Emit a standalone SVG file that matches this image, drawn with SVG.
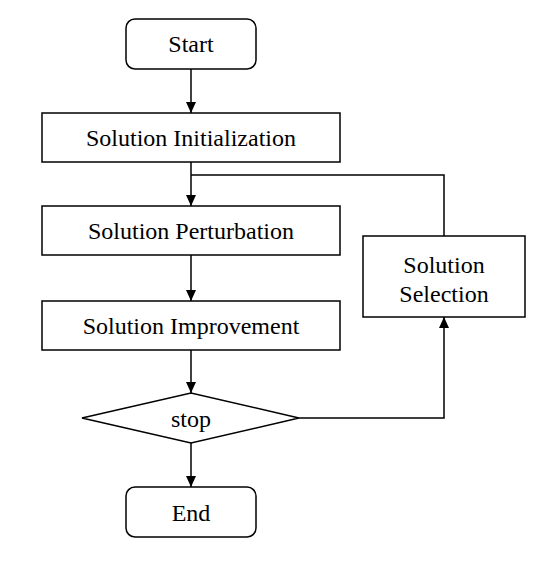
<svg xmlns="http://www.w3.org/2000/svg" width="551" height="563" viewBox="0 0 551 563">
<defs>
<style>
.n{fill:#fff;stroke:#000;stroke-width:1.5}
.t{fill:#000;text-anchor:middle}
.c{fill:none;stroke:#000;stroke-width:1.5}
</style>
<marker id="a" viewBox="0 0 10 10" refX="10" refY="5" markerWidth="11" markerHeight="10" markerUnits="userSpaceOnUse" orient="auto" preserveAspectRatio="none">
<path d="M0,0 L10,5 L0,10 z" fill="#000"/>
</marker>
</defs>
<rect width="551" height="563" fill="#fff"/>
<g id="connectors">
<path class="c" d="M191,69 V113" marker-end="url(#a)"/>
<path class="c" d="M191,162 V206" marker-end="url(#a)"/>
<path class="c" d="M444,236 V175 H191"/>
<path class="c" d="M191,255 V301" marker-end="url(#a)"/>
<path class="c" d="M191,350 V393" marker-end="url(#a)"/>
<path class="c" d="M191,443 V487" marker-end="url(#a)"/>
<path class="c" d="M299,418 H444 V317" marker-end="url(#a)"/>
</g>
<g font-family="Liberation Serif, Times New Roman, serif" font-size="24">
<g id="start"><rect class="n" x="126" y="19" width="130" height="50" rx="9"/><text class="t" x="191" y="52">Start</text></g>
<g id="init"><rect class="n" x="42" y="113" width="298" height="49"/><text class="t" x="191" y="146">Solution Initialization</text></g>
<g id="perturb"><rect class="n" x="42" y="206" width="298" height="49"/><text class="t" x="191" y="239">Solution Perturbation</text></g>
<g id="improve"><rect class="n" x="42" y="301" width="298" height="49"/><text class="t" x="191" y="334">Solution Improvement</text></g>
<g id="stop"><polygon class="n" points="82,418 191,393 299,418 191,443"/><text class="t" x="191" y="427">stop</text></g>
<g id="end"><rect class="n" x="126" y="487" width="130" height="50" rx="9"/><text class="t" x="191" y="521">End</text></g>
<g id="select"><rect class="n" x="363" y="236" width="162" height="81"/><text class="t" x="444" y="273">Solution</text><text class="t" x="444" y="302">Selection</text></g>
</g>
</svg>
